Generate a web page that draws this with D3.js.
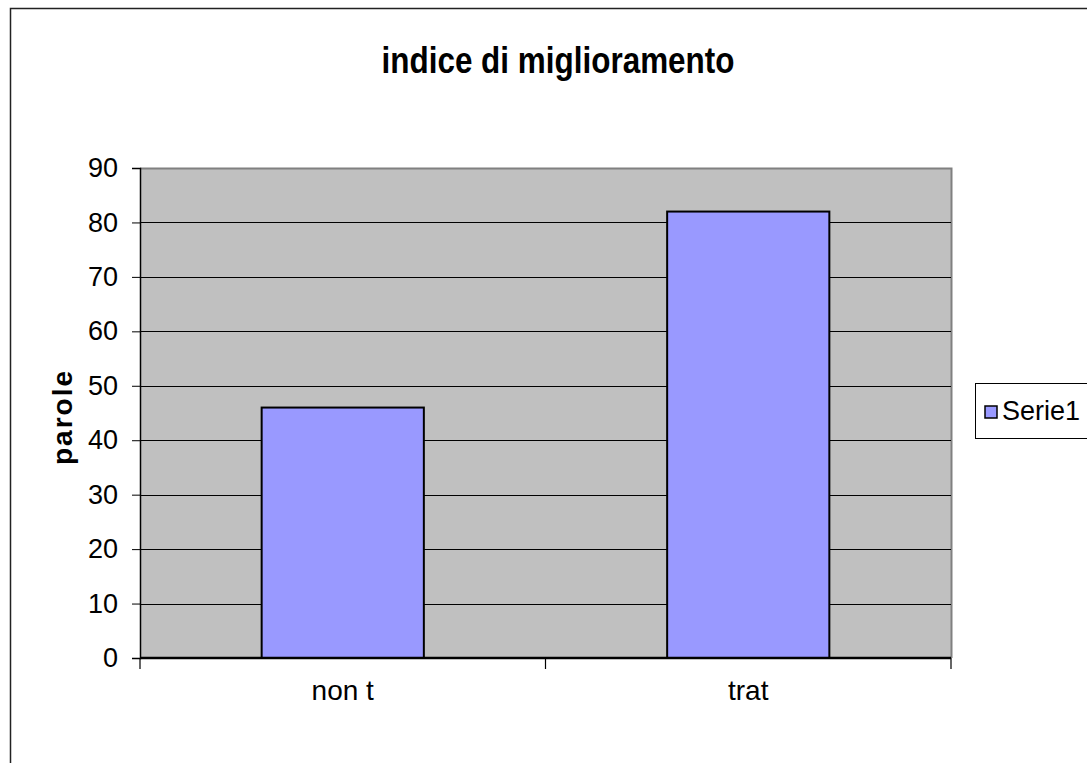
<!DOCTYPE html>
<html>
<head>
<meta charset="utf-8">
<script src="https://cdn.jsdelivr.net/npm/d3@7"></script>
<style>
  html, body { margin: 0; padding: 0; background: #fff; }
  svg { display: block; }
  text { font-family: "Liberation Sans", Arial, sans-serif; fill: #000; }
</style>
</head>
<body>
<svg id="chart" width="1087" height="763"></svg>
<script>
const categories = ["non t", "trat"];
const values = [46, 82];
const yTicks = [0, 10, 20, 30, 40, 50, 60, 70, 80, 90];
const seriesName = "Serie1";
const title = "indice di miglioramento";
const yTitle = "parole";

const svg = d3.select("#chart");
const W = 1087, H = 763;
const plot = { left: 140, top: 168, right: 951, bottom: 658 };

// outer chart border
svg.append("rect")
  .attr("x", 10.5).attr("y", 8.5)
  .attr("width", W + 20).attr("height", H + 20)
  .attr("fill", "#fff").attr("stroke", "#222").attr("stroke-width", 1.5);

const x = d3.scaleBand().domain(categories)
  .range([plot.left, plot.right]).paddingInner(0.6).paddingOuter(0.3);
const y = d3.scaleLinear().domain([0, 90]).range([plot.bottom, plot.top]);

// plot area background
svg.append("rect")
  .attr("x", plot.left).attr("y", plot.top)
  .attr("width", plot.right - plot.left).attr("height", plot.bottom - plot.top)
  .attr("fill", "#c0c0c0");
svg.append("path")
  .attr("d", `M${plot.left},${plot.top + 0.5}H${plot.right + 0.5}V${plot.bottom}`)
  .attr("fill", "none").attr("stroke", "#808080").attr("stroke-width", 2);

// gridlines
svg.append("g").selectAll("line").data(yTicks.filter(d => d > 0 && d < 90)).join("line")
  .attr("x1", plot.left).attr("x2", plot.right)
  .attr("y1", d => Math.round(y(d)) + 0.5).attr("y2", d => Math.round(y(d)) + 0.5)
  .attr("stroke", "#000").attr("stroke-width", 1);

// bars
svg.append("g").selectAll("rect").data(values).join("rect")
  .attr("x", (d, i) => x(categories[i]))
  .attr("y", d => y(d))
  .attr("width", x.bandwidth())
  .attr("height", d => y(0) - y(d))
  .attr("fill", "#9999ff").attr("stroke", "#000").attr("stroke-width", 2);

// y axis
const yAxis = d3.axisLeft(y).tickValues(yTicks).tickSize(8).tickPadding(14).tickFormat(d3.format("d"));
const gy = svg.append("g").attr("transform", `translate(${plot.left},0)`).call(yAxis);
gy.select(".domain").attr("stroke", "#000").attr("stroke-width", 1.5);
gy.selectAll(".tick line").attr("stroke", "#000");
gy.selectAll(".tick text").style("font-size", "27px")
  .style("font-family", "'Liberation Sans', Arial, sans-serif").attr("fill", "#000");

// x axis
const xLine = svg.append("g");
xLine.append("line")
  .attr("x1", plot.left).attr("x2", plot.right)
  .attr("y1", plot.bottom).attr("y2", plot.bottom)
  .attr("stroke", "#000").attr("stroke-width", 2.5);
const xb = [plot.left, plot.left + x.step() * (x.paddingOuter() + 1 - x.paddingInner() / 2) , plot.right];
xLine.selectAll("line.tk").data(xb).join("line").attr("class", "tk")
  .attr("x1", d => d).attr("x2", d => d)
  .attr("y1", plot.bottom).attr("y2", plot.bottom + 11)
  .attr("stroke", "#000").attr("stroke-width", 1.2);
xLine.selectAll("text").data(categories).join("text")
  .attr("x", d => x(d) + x.bandwidth() / 2)
  .attr("y", 700)
  .attr("text-anchor", "middle")
  .style("font-size", "28px")
  .text(d => d);

// title
svg.append("text")
  .attr("x", 558).attr("y", 73)
  .attr("text-anchor", "middle")
  .attr("textLength", 353).attr("lengthAdjust", "spacingAndGlyphs")
  .style("font-size", "37px").style("font-weight", "bold")
  .text(title);

// y title
svg.append("text")
  .attr("transform", `translate(72,417) rotate(-90)`)
  .attr("text-anchor", "middle")
  .style("font-size", "28px").style("font-weight", "bold")
  .style("letter-spacing", "2px")
  .text(yTitle);

// legend
const lg = svg.append("g");
lg.append("rect")
  .attr("x", 975.5).attr("y", 383.5).attr("width", 140).attr("height", 55)
  .attr("fill", "#fff").attr("stroke", "#000").attr("stroke-width", 1);
lg.append("rect")
  .attr("x", 985).attr("y", 406).attr("width", 12).attr("height", 12)
  .attr("fill", "#9999ff").attr("stroke", "#000").attr("stroke-width", 1.5);
lg.append("text")
  .attr("x", 1002).attr("y", 420)
  .style("font-size", "27px")
  .text(seriesName);
</script>
</body>
</html>
